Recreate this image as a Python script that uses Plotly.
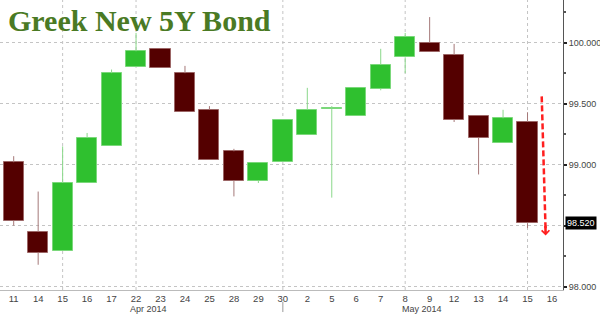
import plotly.graph_objects as go

# ---------------- data ----------------
day_labels = ["11", "14", "15", "16", "17", "22", "23", "24", "25", "28", "29", "30",
              "2", "5", "6", "7", "8", "9", "12", "13", "14", "15", "16"]
open_ = [99.02, 98.45, 98.29, 98.85, 99.15, 99.80, 99.95, 99.75, 99.45, 99.11, 98.87, 99.02,
         99.24, 99.46, 99.40, 99.62, 99.88, 100.00, 99.90, 99.40, 99.18, 99.35]
high = [99.07, 98.78, 99.15, 99.26, 99.78, 100.08, 99.95, 99.81, 99.48, 99.13, 99.01, 99.37,
        99.63, 99.48, 99.63, 99.95, 100.08, 100.21, 99.99, 99.40, 99.45, 99.43]
low = [98.50, 98.18, 98.29, 98.85, 99.15, 99.80, 99.79, 99.43, 99.04, 98.74, 98.85, 99.02,
       99.24, 98.73, 99.40, 99.61, 99.75, 99.92, 99.35, 98.92, 99.18, 98.48]
close = [98.54, 98.28, 98.85, 99.22, 99.75, 99.93, 99.79, 99.43, 99.04, 98.87, 99.01, 99.37,
         99.45, 99.465, 99.63, 99.82, 100.05, 99.92, 99.37, 99.22, 99.38, 98.52]

month_labels = ["Apr 2014", "May 2014"]
month_centers = [5.5, 16.7]          # category-index centres of the month labels
month_break = 11                      # index of the month separator tick
grid_days = [2, 5, 11, 16, 21]        # indices carrying vertical grid lines
y_ticks = [98.0, 98.5, 99.0, 99.5, 100.0]
y_minor = [98.25, 98.75, 99.25, 99.75, 100.25]
arrow_x = [21.58, 21.74]
arrow_y = [99.56, 98.45]

# ---------------- styles ----------------
UP_FILL, UP_LINE, UP_WICK = "#2fc02f", "#7bd87b", "#8ad88a"
DN_FILL, DN_LINE, DN_WICK = "#540000", "#9c6666", "#a57878"
FAM = "Liberation Sans"
X_FONT = dict(family=FAM, size=9.5, color="#444444")
M_FONT = dict(family=FAM, size=9, color="#444444")
Y_FONT = dict(family=FAM, size=9, color="#444444")

n = len(open_)
xs = list(range(n))
up = [c >= o for o, c in zip(open_, close)]

fig = go.Figure()

# wicks (only the parts outside the bodies)
for is_up, col in ((True, UP_WICK), (False, DN_WICK)):
    wx, wy = [], []
    for i in xs:
        if up[i] != is_up:
            continue
        top_b = max(open_[i], close[i])
        bot_b = min(open_[i], close[i])
        if high[i] > top_b:
            wx += [i, i, None]
            wy += [top_b, high[i], None]
        if low[i] < bot_b:
            wx += [i, i, None]
            wy += [low[i], bot_b, None]
    fig.add_trace(go.Scatter(x=wx, y=wy, mode="lines", line=dict(color=col, width=1),
                             hoverinfo="skip", showlegend=False))

# bodies
fig.add_trace(go.Bar(
    x=xs,
    base=[min(o, c) for o, c in zip(open_, close)],
    y=[abs(c - o) for o, c in zip(open_, close)],
    width=0.82,
    marker=dict(color=[UP_FILL if u else DN_FILL for u in up],
                line=dict(color=[UP_LINE if u else DN_LINE for u in up], width=1)),
    showlegend=False,
))

# red dashed arrow shaft
fig.add_trace(go.Scatter(x=arrow_x, y=arrow_y, mode="lines",
                         line=dict(color="#ff1f1f", width=2.5, dash="6px,3px"),
                         hoverinfo="skip", showlegend=False))

fig.add_annotation(x=arrow_x[1], y=arrow_y[1] - 0.03, ax=arrow_x[1] - 0.01, ay=arrow_y[1] + 0.06,
                   xref="x", yref="y", axref="x", ayref="y", text="", showarrow=True,
                   arrowhead=4, arrowsize=0.6, arrowwidth=2.5, arrowcolor="#ff1f1f")

shapes = []
for g in grid_days:
    shapes.append(dict(type="line", xref="x", yref="paper", x0=g, x1=g, y0=0, y1=1,
                       line=dict(color="#c4c4c4", width=1, dash="dot"), layer="below"))
shapes.append(dict(type="line", xref="x", yref="paper", x0=month_break, x1=month_break,
                   y0=-0.041, y1=-0.076, line=dict(color="#999999", width=1)))

annotations = [
    dict(text="Greek New 5Y Bond", xref="paper", yref="paper", x=0.011, y=1.0, yshift=-2,
         xanchor="left", yanchor="top", showarrow=False,
         font=dict(family="Liberation Serif", size=30, color="#4a7a24", weight="bold")),
    dict(text=f"{close[-1]:.3f}", xref="paper", yref="y", x=1, y=close[-1],
         xanchor="left", yanchor="middle", xshift=2, showarrow=False,
         bgcolor="#000000", borderpad=1,
         font=dict(family=FAM, size=9, color="#ffffff")),
]
for lab, c in zip(month_labels, month_centers):
    annotations.append(dict(text=lab, xref="x", yref="paper", x=c, y=-0.064,
                            xanchor="center", yanchor="middle", showarrow=False,
                            font=M_FONT))
for a in annotations:
    fig.add_annotation(**a)

# the last-price box covers the 98.500 label in the reference
y_text = ["" if abs(v - close[-1]) < 0.05 else f"{v:.3f}" for v in y_ticks]

fig.update_layout(
    width=600, height=314,
    margin=dict(l=0, r=37, t=0, b=24),
    paper_bgcolor="white", plot_bgcolor="white",
    shapes=shapes,
    bargap=0,
    xaxis=dict(range=[-0.56, 22.45], tickmode="array", tickvals=xs + [n], ticktext=day_labels,
               showgrid=False, zeroline=False, showline=True, linecolor="#bbbbbb", linewidth=1,
               ticks="", tickfont=X_FONT, automargin=False, fixedrange=True),
    yaxis=dict(range=[97.973, 100.35], side="right", tickmode="array", tickvals=y_ticks,
               ticktext=y_text, showgrid=True, gridcolor="#c4c4c4",
               griddash="dot", gridwidth=1, zeroline=False, showline=True, linecolor="#555555",
               linewidth=1, ticks="outside", ticklen=3, tickwidth=2, tickcolor="#222222",
               tickfont=Y_FONT, automargin=False,
               minor=dict(tickvals=y_minor, ticks="outside", ticklen=2, tickcolor="#555555",
                          showgrid=False)),
)

fig.write_html("out.html")
